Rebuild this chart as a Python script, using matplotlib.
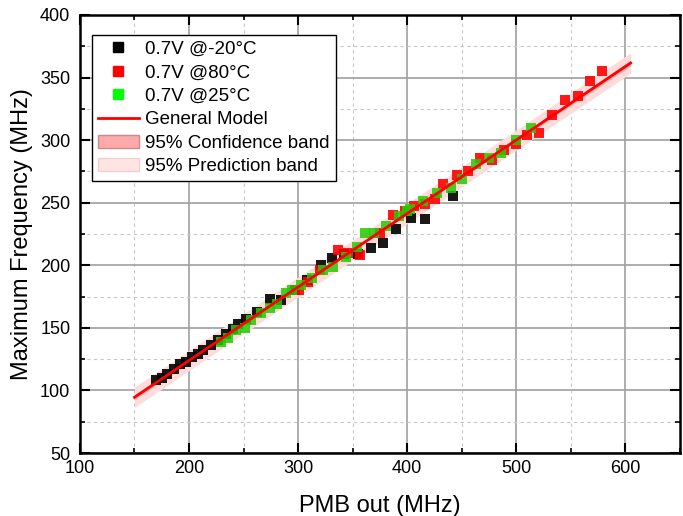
import numpy as np
import matplotlib.pyplot as plt
from matplotlib.patches import Patch
from matplotlib.lines import Line2D
from matplotlib.ticker import MultipleLocator

plt.rcParams['font.family'] = ['Liberation Sans', 'DejaVu Sans']

# data
x_cold = [170, 175, 180, 186, 192, 197, 203, 208, 213, 220, 227, 234, 240, 245, 252,
          262, 274, 284, 297, 308, 321, 331, 342, 355, 367, 378, 390, 404, 416, 442]
y_cold = [108, 110, 113, 117, 121, 123, 127, 129, 132, 136, 140, 145, 149, 153, 157,
          163, 173, 172, 180, 188, 200, 206, 209, 209, 214, 218, 229, 238, 237, 255]

x_hot = [301, 309, 320, 337, 346, 357, 375, 387, 398, 406, 416, 426, 433, 446, 456,
         467, 478, 489, 500, 510, 521, 533, 545, 557, 568, 579]
y_hot = [180, 187, 196, 212, 210, 208, 226, 240, 243, 247, 249, 253, 265, 272, 275,
         286, 284, 292, 297, 304, 306, 320, 332, 335, 347, 355]

x_room = [229, 236, 243, 251, 257, 266, 274, 281, 289, 294, 303, 313, 323, 332, 344, 354,
          361, 370, 381, 393, 400, 403, 415, 427, 440, 450, 463, 475, 486, 500, 514]
y_room = [139, 142, 148, 150, 156, 162, 166, 169, 178, 180, 184, 190, 196, 199, 207, 215,
          226, 226, 231, 239, 243, 245, 251, 258, 262, 269, 281, 286, 290, 300, 310]

# linear fit on all points with confidence / prediction bands
xa = np.array(x_cold + x_hot + x_room, dtype=float)
ya = np.array(y_cold + y_hot + y_room, dtype=float)
p = np.polyfit(xa, ya, 1)
n = len(xa)
res = ya - np.polyval(p, xa)
s = np.sqrt(np.sum(res ** 2) / (n - 2))
t = 1.98
xm = xa.mean()
sxx = np.sum((xa - xm) ** 2)
xf = np.linspace(150, 605, 200)
yf = np.polyval(p, xf)
ci = t * s * np.sqrt(1 / n + (xf - xm) ** 2 / sxx)
pi = t * s * np.sqrt(1 + 1 / n + (xf - xm) ** 2 / sxx)

fig = plt.figure(figsize=(6.83, 5.16), dpi=100)
ax = fig.add_axes([0.1171, 0.122, 0.878, 0.849])

ax.fill_between(xf, yf - pi, yf + pi, color='#ffdcdc', lw=0, zorder=2)
ax.fill_between(xf, yf - ci, yf + ci, color='#ffa8a8', lw=0, zorder=2)

ms = 7.5
ax.plot(x_cold, y_cold, 's', color='black', ms=ms, mew=0, alpha=0.9, zorder=3)
ax.plot(x_hot, y_hot, 's', color='red', ms=ms, mew=0, alpha=0.9, zorder=3)
ax.plot(x_room, y_room, 's', color='#22cc00', ms=ms, mew=0, alpha=0.85, zorder=3)
ax.plot(xf, yf, color='red', lw=2, zorder=4)

ax.set_xlim(100, 650)
ax.set_ylim(50, 400)
ax.xaxis.set_major_locator(MultipleLocator(100))
ax.xaxis.set_minor_locator(MultipleLocator(50))
ax.yaxis.set_major_locator(MultipleLocator(50))
ax.yaxis.set_minor_locator(MultipleLocator(25))
ax.grid(which='major', color='#a0a0a0', lw=1.2, zorder=0)
ax.grid(which='minor', color='#c8c8c8', lw=0.8, ls=(0, (3, 3)), zorder=0)
ax.set_axisbelow(True)
ax.tick_params(which='both', direction='in', top=True, right=True, labelsize=13)
ax.tick_params(which='major', length=7, width=1.5)
ax.tick_params(which='minor', length=3.5, width=1.2)
ax.tick_params(axis='y', which='major', pad=7)
ax.tick_params(axis='x', which='major', pad=5)
for sp in ax.spines.values():
    sp.set_linewidth(1.8)

ax.set_xlabel('PMB out (MHz)', fontsize=17, labelpad=13)
ax.set_ylabel('Maximum Frequency (MHz)', fontsize=17, labelpad=5)

handles = [
    Line2D([], [], ls='none', marker='s', color='black', ms=7),
    Line2D([], [], ls='none', marker='s', color='red', ms=7),
    Line2D([], [], ls='none', marker='s', color='#00ff00', ms=7),
    Line2D([], [], color='red', lw=2),
    Patch(facecolor='#ffaaaa', edgecolor='#cc8888'),
    Patch(facecolor='#ffe4e4', edgecolor='#f0d0d0'),
]
labels = ['0.7V @-20°C', '0.7V @80°C', '0.7V @25°C', 'General Model',
          '95% Confidence band', '95% Prediction band']
leg = ax.legend(handles, labels, loc='upper left', bbox_to_anchor=(0.02, 0.954),
                fontsize=13.5, frameon=True, fancybox=False, framealpha=1,
                edgecolor='black', borderpad=0.3, labelspacing=0.34,
                handlelength=2.2, handletextpad=0.35, borderaxespad=0)
leg.get_frame().set_linewidth(1)

plt.savefig('out.png', dpi=100)
plt.close()
